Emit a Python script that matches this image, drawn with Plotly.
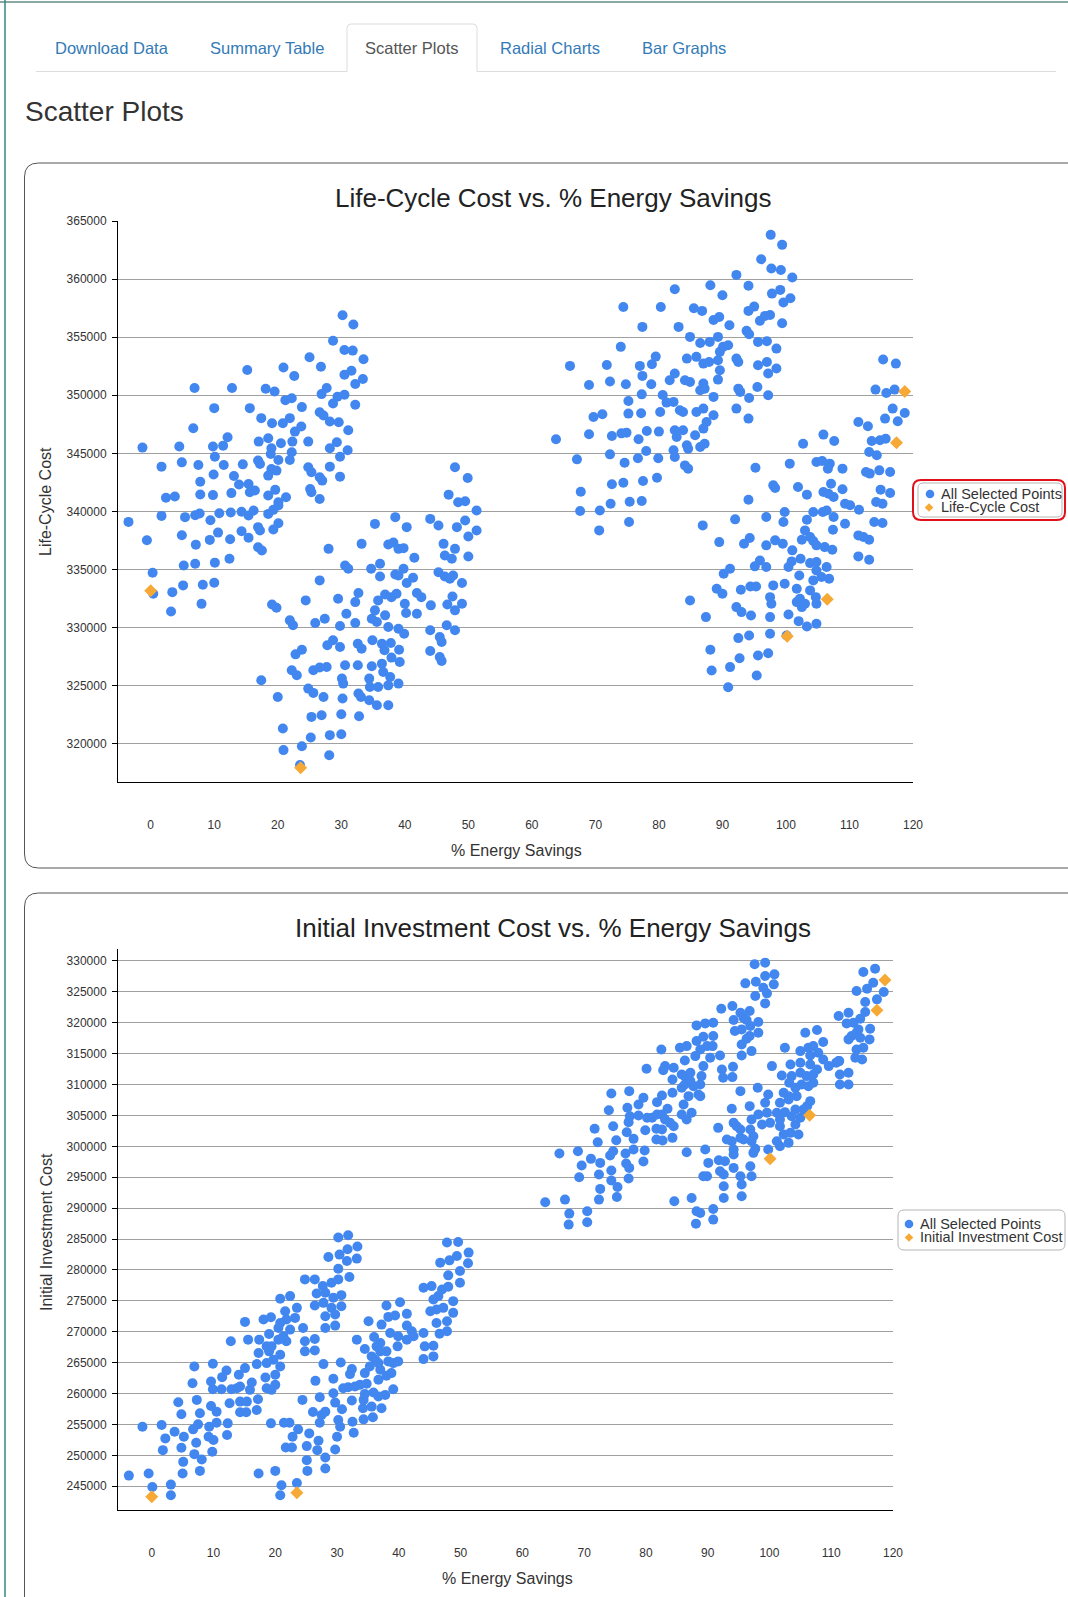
import plotly.graph_objects as go

W, H = 1068, 1597
BLUE = "#4287ef"
ORANGE = "#f7a936"
FONT = "Liberation Sans, Arial, Helvetica, sans-serif"

# ---------------- Data: Life-Cycle Cost vs % Energy Savings ----------------
lcc_group_a = [(30.2,356900),(31.9,356100),(28.7,354700),(30.5,353900),(31.8,353850),(33.5,353100),(25.0,353270),(26.8,352460),(20.9,352400),(22.6,351660),(15.2,352180),(30.5,351770),(31.6,352120),(32.2,350970),(33.4,351400),(6.9,350620),(12.8,350620),(18.1,350560),(19.5,350330),(21.2,349580),(22.2,349750),(23.8,348980),(26.9,350100),(27.7,350620),(29.4,349870),(30.5,350040),(28.7,349290),(32.2,349180),(10.0,348890),(15.6,348890),(17.4,348030),(19.1,347590),(20.8,347590),(21.9,348030),(26.6,348540),(27.2,348260),(28.2,347740),(29.6,347680),(31.1,346990),(6.7,347160),(12.1,346380),(11.4,345660),(17.0,346010),(18.5,346300),(19.0,345430),(20.5,345860),(22.3,346010),(22.7,346870),(23.7,347310),(24.8,346010),(28.2,345430),(29.3,345950),(31.0,345260),(-1.3,345490),(4.5,345580),(9.8,345580),(4.9,344220),(1.7,343850),(7.5,343990),(10.1,344710),(11.5,343990),(14.5,344050),(7.8,342550),(9.9,343180),(13.1,343040),(13.9,342320),(2.4,341170),(3.8,341280),(7.8,341450),(9.8,341400),(12.7,341570),(-3.5,339090),(1.7,339610),(5.4,339500),(7.0,339670),(7.7,339810),(9.4,339240),(10.8,339840),(12.6,339900),(14.3,339960),(10.6,338170),(9.3,337540),(7.1,337130),(4.9,337940),(12.5,337590),(14.3,338280),(-0.6,337510),(10.1,335580),(5.2,335340),(7.0,335490),(12.4,335920),(0.3,334710),(0.4,332900),(3.4,333040),(5.1,333620),(8.2,333670),(10.0,333850),(3.2,331370),(8.0,332030)]
lcc_group_b = [(16.9,344370),(17.2,344080),(18.9,344940),(20.1,344430),(19.0,343650),(19.8,343510),(18.5,343080),(22.2,345090),(21.9,344430),(24.8,343800),(25.3,343370),(26.6,342940),(27.0,342650),(28.2,343850),(29.8,344710),(29.8,342990),(15.4,342360),(15.6,341650),(16.4,341790),(18.5,341360),(19.6,341850),(20.1,340790),(21.3,341220),(25.1,341930),(25.3,341650),(26.6,341070),(15.4,339640),(16.2,340070),(18.5,339780),(19.3,340130),(20.1,340500),(16.9,338640),(17.2,338350),(19.3,338430),(20.1,338980),(15.4,337720),(16.9,336910),(17.5,336630)]
lcc_group_c = [(47.9,343800),(49.9,342880),(46.9,341440),(48.4,340790),(49.5,340870),(51.3,340070),(44.0,339350),(45.3,338780),(49.5,339210),(48.2,338640),(51.3,338350),(50.0,337830),(35.3,338920),(38.5,339500),(40.3,338640),(28.0,336770),(33.2,337200),(37.4,337140),(38.2,337320),(39.0,336770),(39.8,336830),(41.5,336000),(46.1,337200),(47.9,336770),(46.3,336200),(47.4,335910),(50.0,336110),(30.6,335340),(31.1,335050),(34.7,335050),(36.1,335480),(36.1,334390),(38.5,334560),(39.0,334480),(39.8,335050),(40.3,333820),(41.3,334280),(45.3,334760),(46.3,334390),(47.1,334190),(47.6,334480),(49.0,333820),(26.6,334050),(19.1,331980),(19.8,331700),(24.4,332330),(29.5,332470),(32.2,332180),(32.7,332960),(35.8,332330),(36.9,332840),(37.9,332610),(38.7,332900),(40.0,332040),(40.2,331240),(41.9,332960),(42.6,332610),(44.1,331900),(41.9,331180),(46.7,331980),(47.9,331470),(49.0,332040),(47.5,332670),(21.9,330610),(22.4,330180),(25.9,330380),(27.4,330750),(29.8,330120),(30.8,331180),(32.2,330380),(34.8,330750),(35.3,331470),(35.6,330460),(36.9,331040),(37.4,330030),(39.0,329890),(39.9,329460),(44.0,329750),(45.5,329170),(45.8,328740),(46.6,330180),(47.9,329750),(22.8,327680),(23.8,328080),(27.8,328460),(28.7,328890),(29.8,328310),(32.6,328600),(33.2,328170),(34.9,328890),(36.4,328600),(36.8,328030),(37.8,328660),(37.9,327400),(39.1,328080),(39.2,327020),(44.0,327970),(45.5,327450),(45.8,327110),(22.2,326310),(23.0,325880),(25.6,326310),(26.6,326540),(27.7,326590),(30.6,326740),(32.6,326740),(34.8,326650),(36.4,326880),(36.6,326160),(37.7,325730),(39.0,325160),(17.4,325450),(20.0,324010),(24.8,324730),(25.6,324360),(27.2,324010),(30.1,325590),(30.3,325160),(30.2,323870),(32.7,324300),(33.1,324010),(34.4,325590),(34.5,324870),(35.8,324870),(37.4,325010),(34.4,323730),(35.6,323300),(37.4,323300),(20.8,321290),(25.3,322290),(26.9,322440),(30.0,322520),(32.8,322350),(25.2,320520),(28.2,320720),(30.0,320800),(20.9,319430),(23.8,319770),(28.1,318990),(23.5,318140)]
lcc_group_d = [(97.6,363820),(99.4,362960),(96.1,361720),(97.7,360920),(99.2,360800),(101.0,360140),(92.2,360370),(94.1,359430),(88.1,359480),(90.0,358620),(82.5,359140),(97.8,358760),(99.1,359080),(99.6,357990),(100.7,358360),(74.4,357610),(80.3,357610),(85.5,357500),(86.8,357270),(88.6,356490),(89.5,356750),(91.1,356030),(94.1,357270),(95.0,357640),(95.9,356410),(96.7,356840),(97.5,356920),(99.4,356210),(77.4,355890),(83.1,355890),(84.9,355030),(89.3,355030),(93.8,355550),(94.2,355260),(74.0,354170),(79.5,353330),(78.9,352670),(66.0,352530),(71.8,352610),(77.0,352530),(72.3,351180),(69.0,350890),(74.8,350950),(77.4,351670),(78.8,350950),(75.2,349510),(77.3,350080),(80.6,350030),(81.2,349370),(69.7,348130),(71.1,348360),(75.2,348420),(77.2,348450),(80.2,348560),(63.8,346210),(69.0,346640),(72.6,346490),(74.1,346720),(74.9,346780),(76.8,346210),(78.1,346920),(80.0,346870),(78.0,345200),(76.7,344570),(74.6,344190),(72.3,344910),(79.9,344570),(67.1,344480),(72.6,342330),(74.4,342470),(77.5,342610),(79.7,342900),(67.7,341690),(67.6,340030),(70.7,340080),(72.4,340660),(75.4,340830),(77.3,340890),(70.6,338360),(75.3,339080)]
lcc_group_e = [(86.5,354510),(88.0,354600),(90.1,354170),(90.9,354310),(89.6,353740),(92.5,352870),(92.2,353160),(95.6,354600),(97.0,354660),(98.5,354020),(84.4,353160),(85.9,353310),(87.0,352730),(87.9,352870),(89.3,353020),(89.6,352160),(84.1,351290),(84.9,351150),(87.0,351010),(89.3,351350),(86.5,350430),(87.2,350570),(88.6,349860),(82.5,351870),(81.7,351290),(82.3,349430),(83.3,348710),(83.8,348560),(85.9,348560),(87.0,348850),(88.6,348280),(92.5,350570),(92.8,350290),(94.2,349770),(95.5,350720),(97.2,350000),(95.6,352590),(97.0,352870),(97.2,351870),(98.5,352300),(92.2,348850),(94.1,347990),(82.5,346980),(82.8,346410),(83.8,346980),(85.7,346550),(87.0,347130),(87.5,347700),(86.5,345550),(87.2,345830),(84.4,345690),(84.6,345400),(82.3,345260),(82.5,344680),(84.1,343960),(84.6,343680)]
lcc_group_f = [(115.3,353080),(117.3,352730),(114.1,350490),(115.8,350200),(117.1,350490),(116.8,348850),(115.6,347990),(118.7,348480),(117.6,347760),(111.4,347700),(112.9,347330),(113.5,346060),(114.8,346120),(115.7,346260),(113.1,345110),(114.3,344830),(112.6,343390),(113.2,343250),(114.7,343530),(116.4,343390),(114.9,341870),(116.4,341580),(114.2,340800),(115.2,340660),(113.9,339080),(115.2,338990),(105.9,346610),(107.6,346060),(102.7,345830),(95.2,343760),(100.6,344110),(104.8,344250),(105.7,344340),(106.9,344110),(106.6,343680),(108.9,343680),(107.1,342380),(108.9,341900),(105.9,341670),(106.7,341520),(107.5,341230),(101.9,342100),(103.3,341440),(98.0,342240),(98.3,342010),(94.1,341000),(99.8,339940),(104.3,339940),(105.8,339940),(106.4,340080),(107.5,339510),(109.3,340660),(110.1,340520),(111.5,340140),(109.3,338930),(86.9,338790),(92.0,339310),(96.9,339510),(99.6,339080),(103.3,339280),(103.0,338360),(102.5,337560),(103.8,337790),(104.3,337440),(104.8,337070),(106.1,336920),(107.3,336690),(107.4,338420),(111.4,337930),(112.2,337790),(113.1,337560),(111.4,336120),(113.1,335830),(89.5,337350),(93.4,337210),(94.3,337700),(96.9,337070),(98.3,337500),(99.5,337210),(101.0,336640),(102.3,335920),(103.8,335540),(104.8,335630),(106.4,335200),(106.8,334190),(105.6,334340),(104.3,334050),(104.8,334910),(100.9,335690),(100.4,335200),(90.2,334620),(91.2,335060),(95.9,335770),(95.1,335260),(96.9,335200),(102.1,334480),(98.0,333620),(99.8,333760),(101.7,333330),(102.2,332470),(103.8,333190),(104.7,332610),(89.1,333330),(90.0,332900),(92.9,333240),(94.4,333530),(95.3,333530),(97.5,332610),(97.7,332040),(101.7,332180),(102.5,331750),(103.0,332040),(104.8,332040),(84.9,332320),(92.2,331750),(93.0,331320),(94.5,331030),(87.4,330890),(97.5,330890),(100.4,331120),(102.0,330540),(103.3,330080),(104.8,330310),(100.1,329310),(92.5,329080),(94.2,329310),(97.5,329450),(88.1,328070),(92.7,327350),(95.6,327580),(97.2,327780),(88.3,326290),(91.2,326580),(95.4,325860),(90.9,324850)]
lcc_sel_energy = [0.0, 23.6, 100.2, 106.5, 117.4, 118.7]
lcc_sel_cost = [333160, 317900, 329250, 332420, 345900, 350320]

# ---------------- Data: Initial Investment Cost vs % Energy Savings ----------------
iic_group_g = [(-3.7,246730),(-0.5,247060),(0.1,244890),(3.1,245270),(3.1,243540),(5.0,247060),(7.8,247490),(5.1,248950),(8.1,249330),(6.9,250200),(9.8,250580),(1.8,250850),(2.2,252750),(4.8,251230),(5.2,253020),(7.2,252040),(9.2,253020),(10.0,252480),(-1.5,254640),(1.6,254910),(3.7,253830),(6.7,254210),(7.5,255020),(9.3,254640),(10.5,255290),(12.3,255180),(12.2,253290),(4.3,258600),(4.8,256650),(7.3,258980),(7.8,256810),(9.6,258000),(10.5,257080),(12.6,258430),(14.3,258700),(15.4,258700),(14.3,256970),(15.3,256970),(17.0,257350),(17.2,259080),(6.6,261680),(6.9,264390),(9.6,261960),(9.9,260710),(9.9,264830),(11.4,262660),(11.3,260710),(12.1,263740),(12.9,260710),(13.8,260870),(14.3,261140),(14.1,263040),(15.1,264120),(16.2,261790),(15.9,260600),(17.0,264770),(17.3,266560),(12.8,268460),(15.6,268730),(17.4,268730),(15.1,271600),(18.1,271980),(19.3,272360),(19.0,269650),(18.6,267640),(18.4,262600),(18.6,260870),(19.4,260600),(20.0,261410),(18.6,264930),(19.7,265480),(20.0,263040),(19.0,266830),(20.5,268730),(19.4,267640),(20.5,270620),(19.3,255180),(17.3,247060),(20.0,247490)]
iic_group_h = [(20.8,275340),(22.4,275770),(23.5,273870),(21.6,273330),(21.8,271980),(20.8,271430),(23.2,272250),(24.5,270620),(22.4,270350),(21.3,269270),(21.8,268460),(24.8,268460),(26.4,268830),(24.8,266830),(26.4,266990),(20.8,266290),(20.8,264390),(24.8,278480),(26.4,278480),(27.7,277390),(26.7,276200),(28.1,276310),(29.1,277940),(30.2,278480),(29.4,275500),(26.4,274250),(27.8,274680),(29.1,273870),(30.7,274140),(30.7,275930),(28.1,272520),(29.7,272790),(28.1,270620),(29.7,271000),(30.2,285250),(31.8,285630),(31.7,283350),(33.3,283790),(28.6,282110),(30.4,282490),(31.6,281460),(33.2,281840),(30.2,280210),(32.0,278860)]
iic_group_i = [(21.0,245160),(20.8,243540),(23.5,245540),(25.1,249230),(25.2,247490),(28.1,249660),(28.1,247870),(21.7,251280),(22.7,251280),(25.1,251500),(26.8,250850),(29.7,250960),(25.5,253560),(27.0,252370),(22.8,253020),(23.7,254210),(21.4,255290),(22.3,255290),(30.0,253020),(30.2,255730),(30.5,254640),(32.7,253670),(32.5,255450),(34.3,255830),(35.8,256160),(27.2,255290),(27.5,256540),(26.1,257030),(28.1,257080),(29.7,258540),(30.8,257460),(24.4,258980),(27.2,259410),(29.4,260060),(32.4,258870),(34.2,257620),(35.6,257890),(37.2,257620),(34.3,258980),(34.5,259950),(31.0,260870),(31.8,261030),(32.9,261140),(33.7,261410),(34.8,261580),(35.9,260170),(36.7,259520),(37.8,259790),(39.1,260710),(26.5,262060),(29.4,262390),(27.8,264770),(30.6,265040),(32.1,263150),(32.4,263960),(34.5,263310),(35.3,264390),(36.2,265480),(36.7,262230),(37.0,263850),(38.0,262880),(38.8,263310),(39.1,264930),(39.9,265210),(33.2,268730),(34.5,267210),(36.0,269160),(35.1,271710),(37.2,271160),(38.3,272410),(38.0,274250),(39.4,272630),(38.6,269810),(40.2,274790),(41.3,272900),(41.3,271000),(42.1,270080),(42.4,269270),(41.3,268730),(39.9,269270),(39.8,267640),(37.0,266830),(36.4,267640),(36.7,264930),(35.6,266020),(38.3,265210),(37.0,268180),(38.0,266830)]
iic_group_j = [(47.8,284440),(49.6,284540),(51.3,282810),(51.2,281080),(46.7,281190),(48.2,281560),(49.4,282270),(49.9,279830),(48.0,279130),(49.9,277940),(44.0,277120),(45.3,277390),(47.0,276850),(48.0,277290),(48.8,274960),(45.6,275230),(46.4,275770),(45.1,273330),(46.1,273600),(47.2,273870),(48.8,273060),(46.1,271430),(47.8,271710),(46.6,269700),(47.8,270080),(44.0,269810),(44.2,267640),(45.6,267750),(44.0,265580),(45.6,266020)]
iic_group_k = [(63.7,290960),(66.0,298840),(66.9,291390),(67.6,289120),(67.5,287340),(70.5,289500),(70.5,287720),(69.0,299220),(69.6,296900),(69.2,295010),(71.1,297980),(71.7,302840),(72.2,300680),(72.6,297330),(72.4,295440),(72.6,293120),(72.4,291390),(74.4,296090),(74.4,294470),(75.4,293440),(75.3,291820),(74.2,298520),(74.7,299220),(75.2,301000),(74.7,303270),(74.0,305860),(74.4,308560),(77.0,306240),(77.3,308940),(78.8,306780),(79.6,307860),(77.2,303920),(77.4,304890),(78.8,305000),(76.9,302300),(78.0,301220),(78.0,299490),(76.7,298840),(76.8,297220),(77.3,296520),(77.2,294790),(79.8,299330),(79.6,297550),(79.9,302620),(80.2,304620),(81.0,304620),(81.8,305160),(82.6,305160),(81.8,307160),(82.6,308240),(83.5,306080),(83.1,304350),(83.9,303810),(84.5,303270),(81.7,302840),(82.6,302730),(81.7,301110),(82.7,300950),(84.3,301380),(80.1,312560),(82.5,315690),(83.1,312990),(82.8,312340),(84.5,312720),(84.3,310830),(84.3,308670),(85.5,315960),(86.6,316230),(86.3,313910),(85.8,311640),(86.3,311370),(87.2,311910),(88.0,314610),(88.2,317040),(88.2,319580),(85.8,309480),(86.1,306780),(85.8,305160),(86.6,304350),(87.4,305430),(86.9,308130),(87.7,309750),(88.5,308400),(86.6,299060),(84.6,291120),(87.4,291660),(88.2,289500),(88.1,287500),(86.3,310020),(87.2,310560)]
iic_group_l = [(97.6,329460),(99.3,329730),(96.1,326380),(97.8,326650),(99.3,327570),(100.8,327840),(99.0,325680),(100.7,326220),(99.6,324760),(97.7,324330),(99.3,323140),(92.2,322280),(94.0,322710),(95.3,321630),(96.8,321900),(96.3,320440),(95.8,320820),(94.2,320440),(98.2,320120),(94.4,318660),(95.5,318930),(96.9,319470),(96.8,317850),(98.2,318390),(96.3,317420),(95.5,316500),(97.1,315420),(95.5,314720),(90.9,320010),(89.6,319900),(89.3,317740),(90.9,317850),(89.9,316230),(90.8,316230),(88.8,315690),(90.4,314340),(92.0,314720),(89.3,312990),(89.0,311370),(92.3,312450),(94.1,312880),(92.5,311100),(94.0,311210),(88.8,310020),(88.8,308130)]
iic_group_m = [(105.8,318390),(107.7,318820),(102.5,315960),(108.7,316880),(105.0,315420),(106.3,315960),(107.1,316230),(106.6,314720),(107.9,315150),(108.7,314070),(109.6,312990),(110.8,313530),(111.3,313800),(100.4,312990),(103.4,313260),(105.0,313530),(106.6,313260),(107.7,312450),(105.0,311910),(106.0,311370),(107.1,311640),(102.0,311480),(103.6,311370),(103.2,310290),(104.2,309480),(105.2,310020),(106.3,309750),(107.1,310290),(102.3,308670),(103.1,308130),(104.4,308130),(106.6,307320),(106.1,306510),(105.5,305970),(104.2,305970),(103.1,307590),(101.7,307050),(99.8,308400),(99.3,307050),(98.1,309480),(95.3,308940),(96.8,306510),(93.9,306080),(94.2,303810),(97.1,304350),(98.2,305160),(99.6,305430),(101.2,305430),(101.7,304350),(102.5,305540),(103.6,304890),(105.0,304620),(104.2,303540),(100.1,303810),(98.8,303540),(96.9,302730),(95.3,302730),(94.7,303270),(101.7,303270),(102.3,301920),(103.4,302190),(104.7,301920),(101.2,300840),(99.8,299490),(103.1,300570),(101.7,300030),(97.4,301650),(97.1,300840),(97.7,299600),(95.8,301110),(95.3,301380),(93.9,300840),(93.1,301110),(91.7,303000),(94.2,299490),(92.8,297600),(94.2,298680),(97.4,298950),(96.9,296790),(94.2,296520),(91.8,297760),(89.6,299490),(90.1,297330),(89.3,295170),(92.0,295980),(92.6,295440),(89.9,295170),(95.3,295170),(95.5,293820),(97.1,295170),(92.6,293550),(95.5,291930),(92.6,291660),(90.9,289880),(90.9,288150),(88.8,289230)]
iic_group_n = [(115.2,328220),(117.1,328760),(114.1,325140),(115.8,325520),(116.8,326490),(118.5,324980),(117.4,323790),(115.5,323360),(111.2,321090),(112.8,321630),(115.5,321740),(114.7,320660),(112.5,319900),(113.6,320010),(114.4,318930),(116.3,319040),(113.3,317850),(114.1,318390),(112.8,317310),(114.7,317580),(116.2,317310),(114.1,315690),(115.2,315960),(113.9,314340),(115.0,314070),(111.2,313800),(111.4,311640),(112.8,311910),(111.4,310020),(112.8,310020)]
iic_sel_energy = [0.0, 23.5, 100.1, 106.5, 117.4, 118.7]
iic_sel_cost = [243300, 243950, 297980, 305050, 322010, 326920]

lcc_ticks = list(range(320000, 365001, 5000))
iic_ticks = list(range(245000, 330001, 5000))
x_ticks = list(range(0, 121, 10))


def unzip(groups):
    xs, ys = [], []
    for g in groups:
        for a, b in g:
            xs.append(a)
            ys.append(b)
    return xs, ys


def X(v):
    return v / W


def Y(v):
    return 1 - v / H


def rrect(x0, y0, x1, y1, r):
    return (f"M{X(x0+r)},{Y(y0)} L{X(x1-r)},{Y(y0)} Q{X(x1)},{Y(y0)} {X(x1)},{Y(y0+r)} "
            f"L{X(x1)},{Y(y1-r)} Q{X(x1)},{Y(y1)} {X(x1-r)},{Y(y1)} L{X(x0+r)},{Y(y1)} "
            f"Q{X(x0)},{Y(y1)} {X(x0)},{Y(y1-r)} L{X(x0)},{Y(y0+r)} Q{X(x0)},{Y(y0)} {X(x0+r)},{Y(y0)} Z")


def open_panel(x0, y0, y1, r, xr, closed_bottom):
    p = f"M{X(xr)},{Y(y0)} L{X(x0+r)},{Y(y0)} Q{X(x0)},{Y(y0)} {X(x0)},{Y(y0+r)} "
    if closed_bottom:
        p += f"L{X(x0)},{Y(y1-r)} Q{X(x0)},{Y(y1)} {X(x0+r)},{Y(y1)} L{X(xr)},{Y(y1)}"
    else:
        p += f"L{X(x0)},{Y(y1)}"
    return p


def legend_dot(cx, cy, r):
    return dict(type="circle", xref="paper", yref="paper", x0=X(cx - r), x1=X(cx + r),
                y0=Y(cy + r), y1=Y(cy - r), fillcolor=BLUE, line=dict(width=0))


def legend_diamond(cx, cy, h):
    path = (f"M{X(cx)},{Y(cy-h)} L{X(cx+h)},{Y(cy)} L{X(cx)},{Y(cy+h)} L{X(cx-h)},{Y(cy)} Z")
    return dict(type="path", xref="paper", yref="paper", path=path, fillcolor=ORANGE, line=dict(width=0))


lcc_x, lcc_y = unzip([lcc_group_a, lcc_group_b, lcc_group_c, lcc_group_d, lcc_group_e, lcc_group_f])
iic_x, iic_y = unzip([iic_group_g, iic_group_h, iic_group_i, iic_group_j, iic_group_k, iic_group_l, iic_group_m, iic_group_n])

fig = go.Figure()
fig.add_trace(go.Scatter(x=lcc_x, y=lcc_y, mode="markers", name="All Selected Points",
                         marker=dict(color=BLUE, size=10), xaxis="x", yaxis="y", hoverinfo="skip"))
fig.add_trace(go.Scatter(x=lcc_sel_energy, y=lcc_sel_cost, mode="markers", name="Life-Cycle Cost",
                         marker=dict(color=ORANGE, size=10, symbol="diamond"), xaxis="x", yaxis="y", hoverinfo="skip"))
fig.add_trace(go.Scatter(x=iic_x, y=iic_y, mode="markers", name="All Selected Points",
                         marker=dict(color=BLUE, size=10), xaxis="x2", yaxis="y2", hoverinfo="skip"))
fig.add_trace(go.Scatter(x=iic_sel_energy, y=iic_sel_cost, mode="markers", name="Initial Investment Cost",
                         marker=dict(color=ORANGE, size=10, symbol="diamond"), xaxis="x2", yaxis="y2", hoverinfo="skip"))

xcommon = dict(showgrid=False, zeroline=False, showline=True, linecolor="#000", linewidth=1,
               tickmode="array", tickvals=x_ticks, ticktext=[str(v) for v in x_ticks], automargin=False,
               ticks="", ticklabelstandoff=32, tickfont=dict(size=12, color="#333", family=FONT))
ycommon = dict(showgrid=True, gridcolor="#a0a0a0", gridwidth=1, zeroline=False, showline=True,
               linecolor="#000", linewidth=1, ticks="outside", ticklen=5, tickcolor="#000", automargin=False,
               ticklabelstandoff=3, tickfont=dict(size=12, color="#333", family=FONT))

fig.update_layout(
    width=W, height=H, autosize=False,
    margin=dict(l=0, r=0, t=0, b=0, pad=0, autoexpand=False),
    paper_bgcolor="white", plot_bgcolor="white",
    showlegend=False,
    font=dict(family=FONT, color="#333"),
    xaxis=dict(domain=[X(118), X(913)], range=[-5.15, 120], anchor="y", **xcommon),
    yaxis=dict(domain=[Y(781.8), Y(220.7)], range=[316700, 365040], anchor="x",
               tickmode="array", tickvals=lcc_ticks, ticktext=[str(v) for v in lcc_ticks], **ycommon),
    xaxis2=dict(domain=[X(118), X(893)], range=[-5.46, 120], anchor="y2", **xcommon),
    yaxis2=dict(domain=[Y(1509.7), Y(949)], range=[241210, 331940], anchor="x2",
                tickmode="array", tickvals=iic_ticks, ticktext=[str(v) for v in iic_ticks], **ycommon),
)

shapes = []
shapes.append(dict(type="line", xref="paper", yref="paper", x0=0, x1=1, y0=Y(2), y1=Y(2),
                   line=dict(color="#8aa9a3", width=2)))
shapes.append(dict(type="line", xref="paper", yref="paper", x0=X(5), x1=X(5), y0=Y(0), y1=Y(H),
                   line=dict(color="#2f8a7c", width=1.5)))
shapes.append(dict(type="line", xref="paper", yref="paper", x0=X(36), x1=X(347), y0=Y(71.5), y1=Y(71.5),
                   line=dict(color="#dddddd", width=1)))
shapes.append(dict(type="line", xref="paper", yref="paper", x0=X(477), x1=X(1056), y0=Y(71.5), y1=Y(71.5),
                   line=dict(color="#dddddd", width=1)))
tab_path = (f"M{X(347)},{Y(71.5)} L{X(347)},{Y(28)} Q{X(347)},{Y(24)} {X(351)},{Y(24)} "
            f"L{X(473)},{Y(24)} Q{X(477)},{Y(24)} {X(477)},{Y(28)} L{X(477)},{Y(71.5)}")
shapes.append(dict(type="path", xref="paper", yref="paper", path=tab_path, line=dict(color="#dddddd", width=1)))
shapes.append(dict(type="path", xref="paper", yref="paper", path=open_panel(24.5, 163, 868, 14, W, True),
                   line=dict(color="#555555", width=1)))
shapes.append(dict(type="path", xref="paper", yref="paper", path=open_panel(24.5, 893, H, 14, W, False),
                   line=dict(color="#555555", width=1)))
shapes.append(dict(type="path", xref="paper", yref="paper", path=rrect(918, 483, 1062, 517, 5),
                   line=dict(color="#b5b5b5", width=1)))
shapes.append(dict(type="path", xref="paper", yref="paper", path=rrect(913, 480, 1065, 520, 8),
                   line=dict(color="#e0111b", width=2)))
shapes.append(dict(type="path", xref="paper", yref="paper", path=rrect(898, 1210, 1065, 1250, 6),
                   line=dict(color="#b5b5b5", width=1)))
# legend symbols
shapes.append(legend_dot(930, 494, 4.3))
shapes.append(legend_diamond(929, 507.5, 4.3))
shapes.append(legend_dot(909, 1224, 4.3))
shapes.append(legend_diamond(909, 1237.5, 4.3))
fig.update_layout(shapes=shapes)


def ann(text, x, y, size, color="#333", xanchor="center", angle=0):
    return dict(text=text, x=X(x), y=Y(y), xref="paper", yref="paper", showarrow=False,
                xanchor=xanchor, yanchor="middle", textangle=angle,
                font=dict(family=FONT, size=size, color=color))


annotations = [
    ann("Download Data", 111.5, 48, 16.5, "#337ab7"),
    ann("Summary Table", 267, 48, 16.5, "#337ab7"),
    ann("Scatter Plots", 412, 48, 16.5, "#555555"),
    ann("Radial Charts", 550, 48, 16.5, "#337ab7"),
    ann("Bar Graphs", 684, 48, 16.5, "#337ab7"),
    ann("Scatter Plots", 23, 112, 28, "#333333", xanchor="left"),
    ann("Life-Cycle Cost vs. % Energy Savings", 553, 198, 26, "#222"),
    ann("Initial Investment Cost vs. % Energy Savings", 553, 928, 26, "#222"),
    ann("% Energy Savings", 516, 850, 16, "#333"),
    ann("% Energy Savings", 507, 1578, 16, "#333"),
    ann("Life-Cycle Cost", 46, 502, 16, "#333", angle=-90),
    ann("Initial Investment Cost", 46, 1232, 16, "#333", angle=-90),
    ann("All Selected Points", 939, 494, 14.5, "#333", xanchor="left"),
    ann("Life-Cycle Cost", 939, 507, 14.5, "#333", xanchor="left"),
    ann("All Selected Points", 918, 1224, 14.5, "#333", xanchor="left"),
    ann("Initial Investment Cost", 918, 1237, 14.5, "#333", xanchor="left"),
]
fig.update_layout(annotations=annotations)

fig.write_html("out.html", config={"displayModeBar": False},
               post_script="document.body.style.margin='0';document.body.style.overflow='hidden';")
